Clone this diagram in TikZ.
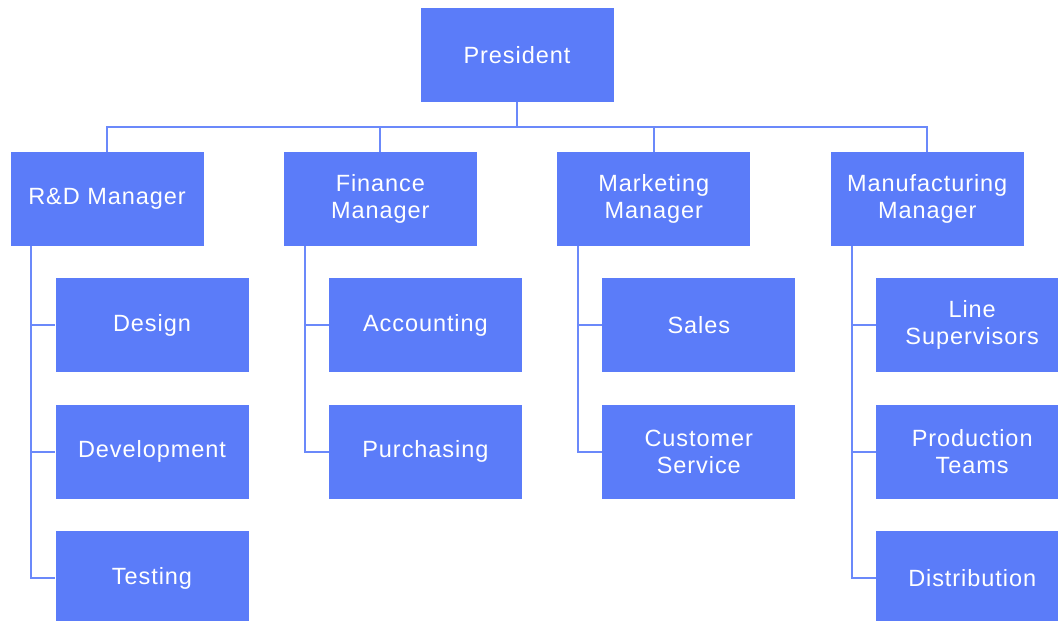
\documentclass[tikz,border=0pt]{standalone}
\usepackage{fontspec}
\setmainfont[LetterSpace=4]{Liberation Sans}
\usepackage{xcolor}
\usetikzlibrary{positioning}
\definecolor{boxblue}{RGB}{91,124,249}

\begin{document}
\begin{tikzpicture}[x=1pt, y=1pt, node distance = 80pt,
    unit/.style={fill=boxblue, text=white, minimum width=193pt, minimum height=94pt,
        inner sep=0pt, align=center, font=\fontsize{23.5}{27}\selectfont},
    link/.style={draw=boxblue!90, line width=2pt}]
        \useasboundingbox (0,0) rectangle (1058,-621);
        %\tikzset{unit/.append style={draw=red}}
        \node[unit] (pres) at (517,-55) {President};
        \coordinate (bus) at (517,-127);

        \node[unit] (rd) at (107,-199) {R\&D Manager};
        \node[unit] (fin) [right = of rd] {Finance\\Manager};
        \node[unit] (mkt) [right = of fin] {Marketing\\Manager};
        \node[unit] (mfg) [right = of mkt] {Manufacturing\\Manager};

        % R&D
        \node[unit] (design) [below right = 32pt and 45pt of rd.south west] {Design};
        \node[unit] (dev) [below = 32pt of design] {Development};
        \node[unit] (test) [below = 32pt of dev] {Testing};

        % Finance
        \node[unit] (acc) [below right = 32pt and 45pt of fin.south west] {Accounting};
        \node[unit] (purch) [below = 32pt of acc] {Purchasing};

        % Marketing
        \node[unit] (sales) [below right = 32pt and 45pt of mkt.south west] {Sales};
        \node[unit] (cust) [below = 32pt of sales] {Customer\\Service};

        % Manufacturing
        \node[unit] (line) [below right = 32pt and 45pt of mfg.south west] {Line\\Supervisors};
        \node[unit] (prod) [below = 32pt of line] {Production\\Teams};
        \node[unit] (dist) [below = 32pt of prod] {Distribution};

        \draw[link] (pres.south) -- (bus);
        \foreach \m in {rd, fin, mkt, mfg}
            \draw[link] (\m.north) |- (bus);

        \foreach \m/\c in {rd/design, rd/dev, rd/test, fin/acc, fin/purch,
                mkt/sales, mkt/cust, mfg/line, mfg/prod, mfg/dist}
            \draw[link] ([xshift=21pt]\m.south west) |- (\c.west);
    \end{tikzpicture}
\end{document}
